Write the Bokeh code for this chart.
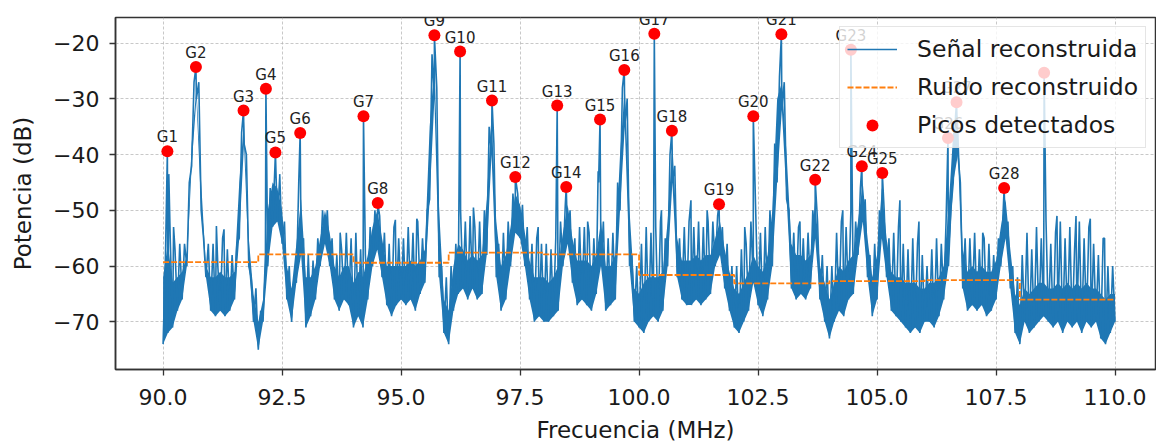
import numpy as np
from bokeh.plotting import figure
from bokeh.models import (Legend, LegendItem, FixedTicker, Range1d, ColumnDataSource,
                          Label, CustomJSTickFormatter)
from bokeh.embed import file_html
from bokeh.resources import INLINE

# ---------------- data ----------------
# lower envelope of the reconstructed signal, every 0.1 MHz from 90.0 to 110.0
sig_lo_db = [
    -74, -72, -71, -68, -66, -60, -42, -30, -50, -62,
    -68, -69, -68, -69, -68, -66, -55, -38, -60, -70,
    -75, -70, -60, -53, -52, -56, -66, -70, -63, -58,
    -71, -69, -66, -60, -56, -60, -66, -68, -66, -67,
    -71, -69, -71, -66, -60, -57, -62, -67, -69, -67,
    -66, -67, -66, -68, -65, -63, -48, -30, -62, -72,
    -74, -68, -65, -64, -66, -64, -66, -65, -58, -40,
    -62, -68, -66, -60, -54, -55, -60, -66, -70, -69,
    -70, -70, -69, -68, -60, -56, -63, -67, -66, -67,
    -68, -65, -60, -68, -67, -66, -50, -35, -60, -70,
    -71, -72, -70, -69, -70, -68, -60, -45, -62, -66,
    -67, -67, -66, -67, -66, -65, -60, -58, -64, -68,
    -71, -72, -70, -68, -63, -67, -69, -66, -60, -45,
    -32, -48, -64, -66, -65, -66, -64, -55, -66, -70,
    -73, -70, -68, -69, -66, -65, -58, -52, -62, -69,
    -66, -55, -62, -68, -69, -70, -71, -72, -71, -72,
    -70, -70, -71, -69, -66, -60, -45, -40, -64, -68,
    -67, -68, -67, -69, -68, -66, -60, -55, -64, -72,
    -74, -70, -72, -71, -70, -69, -70, -71, -70, -72,
    -70, -71, -70, -72, -70, -71, -70, -73, -74, -72,
    -70,
]
# top of the dense part of the signal, same frequencies as sig_lo_db
sig_core_db = [
    -62, -56, -63, -62, -61, -58, -38, -28, -45, -60,
    -62, -62, -61, -62, -62, -61, -45, -34, -55, -65,
    -70, -66, -50, -45, -46, -50, -60, -64, -56, -48,
    -62, -62, -60, -55, -50, -54, -60, -62, -60, -60,
    -63, -61, -62, -58, -53, -50, -55, -60, -60, -60,
    -60, -60, -59, -60, -59, -57, -35, -24, -50, -66,
    -68, -60, -56, -57, -59, -58, -59, -58, -48, -33,
    -52, -60, -58, -53, -47, -49, -54, -59, -62, -62,
    -62, -63, -62, -60, -54, -49, -55, -59, -59, -59,
    -60, -58, -52, -60, -60, -58, -40, -28, -50, -64,
    -65, -63, -62, -62, -62, -61, -52, -38, -55, -59,
    -59, -59, -58, -59, -58, -58, -55, -52, -57, -61,
    -64, -65, -63, -61, -58, -60, -61, -58, -50, -30,
    -27, -40, -56, -58, -58, -59, -58, -48, -60, -63,
    -66, -63, -60, -61, -59, -58, -52, -45, -55, -62,
    -58, -46, -55, -61, -62, -62, -63, -63, -63, -64,
    -64, -63, -63, -62, -60, -50, -36, -33, -57, -61,
    -60, -61, -60, -61, -61, -59, -53, -48, -57, -65,
    -67, -64, -65, -64, -63, -63, -64, -64, -63, -64,
    -63, -64, -63, -64, -63, -64, -64, -65, -66, -65,
    -65,
]
# upper values of the signal, every 0.1 MHz from 90.05 to 109.95
sig_hi_db = [
    -58, -55, -57, -56, -56, -45, -27, -27, -55, -56,
    -56, -60, -55, -57, -58, -56, -36, -40, -62, -64,
    -68, -58, -46, -42, -44, -52, -60, -62, -45, -55,
    -58, -59, -55, -50, -50, -55, -58, -57, -54, -55,
    -54, -57, -58, -53, -50, -51, -54, -56, -53, -55,
    -55, -53, -54, -52, -55, -50, -22, -28, -60, -62,
    -60, -56, -50, -52, -51, -53, -52, -50, -35, -38,
    -56, -54, -52, -47, -47, -49, -53, -56, -55, -56,
    -56, -57, -55, -52, -49, -50, -55, -53, -53, -54,
    -55, -45, -52, -55, -54, -45, -28, -30, -58, -60,
    -56, -53, -54, -53, -52, -55, -40, -42, -55, -53,
    -52, -53, -52, -53, -52, -52, -51, -53, -56, -60,
    -60, -57, -56, -52, -50, -54, -53, -50, -38, -26,
    -27, -50, -54, -53, -55, -54, -50, -52, -58, -60,
    -60, -54, -52, -53, -50, -52, -46, -48, -58, -56,
    -50, -50, -55, -54, -53, -56, -57, -55, -56, -58,
    -60, -57, -55, -56, -52, -50, -33, -45, -55, -55,
    -54, -57, -55, -56, -58, -55, -50, -52, -60, -62,
    -58, -54, -57, -53, -55, -52, -56, -54, -52, -55,
    -53, -57, -52, -55, -53, -56, -58, -55, -60, -60,
]
# isolated thin spikes of the signal
spike_freq = [90.12, 90.22, 91.12, 91.28, 92.45, 93.72, 94.88, 95.33, 96.52, 97.88,
              98.92, 99.14, 100.47, 101.09, 101.43, 102.22, 103.38, 104.28, 105.48,
              105.88, 107.22, 108.78, 109.18, 109.48, 109.78]
spike_db = [-43.5, -53, -52.8, -53.4, -43.5, -54, -51.7, -51.5, -49.5, -53,
            -52, -43, -50, -48.2, -50, -53, -52, -50, -48.2,
            -52, -54, -51, -51, -51.5, -55]

# detected peaks (the last one, behind the legend, carries no visible label)
peak_labels = ["G1", "G2", "G3", "G4", "G5", "G6", "G7", "G8", "G9", "G10",
               "G11", "G12", "G13", "G14", "G15", "G16", "G17", "G18", "G19", "G20",
               "G21", "G22", "G23", "G24", "G25", "G26", "G27", "G28"]
peak_freq = [90.09, 90.69, 91.69, 92.16, 92.36, 92.88, 94.21, 94.51, 95.70, 96.24,
             96.91, 97.40, 98.28, 98.47, 99.18, 99.69, 100.32, 100.69, 101.68, 102.40,
             102.99, 103.70, 104.45, 104.68, 105.11, 106.49, 106.67, 107.67, 108.51]
peak_db = [-39.4, -24.3, -32.1, -28.2, -39.6, -36.1, -33.1, -48.7, -18.6, -21.5,
           -30.3, -44.0, -31.2, -45.8, -33.7, -24.8, -18.3, -35.7, -48.9, -33.1,
           -18.4, -44.5, -21.2, -42.1, -43.3, -37.0, -30.6, -46.0, -25.3]

# reconstructed noise floor (2 MHz blocks)
noise_edges = [90, 92, 94, 96, 98, 100, 102, 104, 106, 108, 110]
noise_db = [-59.3, -57.9, -59.4, -57.6, -57.9, -61.6, -63.1, -62.7, -62.5, -66.0, -66.0]

x_ticks = [90.0, 92.5, 95.0, 97.5, 100.0, 102.5, 105.0, 107.5, 110.0]
y_ticks = [-70, -60, -50, -40, -30, -20]

# ---------------- build signal trace ----------------
lo_f = np.round(np.linspace(90.0, 110.0, len(sig_lo_db)), 3)
hi_f = np.round(lo_f[:-1] + 0.05, 3)
all_f = np.concatenate([lo_f, hi_f, spike_freq, peak_freq])
all_db = np.concatenate([sig_lo_db, sig_hi_db, spike_db, peak_db])
order = np.argsort(all_f, kind="stable")
sig_f = all_f[order]
sig_db = all_db[order]

FONT = "DejaVu Sans"
TXT = "#1a1a1a"
BLUE = "#1f77b4"

p = figure(width=1156, height=446, output_backend="svg", toolbar_location=None,
           x_range=Range1d(89.0, 110.85), y_range=Range1d(-78.55, -15.4),
           min_border_left=115, min_border_right=1, min_border_top=17, min_border_bottom=77)
p.background_fill_color = "white"
p.border_fill_color = "white"
p.outline_line_color = "#333333"
p.outline_line_width = 1.5

p.varea(x=lo_f, y1=sig_lo_db, y2=sig_core_db, fill_color=BLUE)
sig_r = p.line(sig_f, sig_db, line_color=BLUE, line_width=1.6)
noise_r = p.step(noise_edges, noise_db, mode="after", line_color="#ff7f0e",
                 line_width=1.8, line_dash="6 2")
src = ColumnDataSource(dict(f=peak_freq, db=peak_db))
pk_r = p.scatter("f", "db", source=src, size=12, fill_color="red", line_color=None)

for f, db, lab in zip(peak_freq, peak_db, peak_labels):
    p.add_layout(Label(x=f, y=db, text=lab, text_align="center",
                       text_baseline="alphabetic", y_offset=14, text_font=FONT,
                       text_font_size="15px", text_color="#222222"))

# axes
for ax in (p.xaxis[0], p.yaxis[0]):
    ax.axis_line_color = "#333333"
    ax.axis_line_width = 1.5
    ax.major_tick_line_color = "#333333"
    ax.major_tick_line_width = 1.3
    ax.major_tick_out = 6
    ax.major_tick_in = 0
    ax.minor_tick_line_color = None
    ax.major_label_text_font = FONT
    ax.major_label_text_font_size = "22px"
    ax.major_label_text_color = TXT
    ax.axis_label_text_font = FONT
    ax.axis_label_text_font_size = "23px"
    ax.axis_label_text_font_style = "normal"
    ax.axis_label_text_color = TXT

p.xaxis.ticker = FixedTicker(ticks=x_ticks)
p.yaxis.ticker = FixedTicker(ticks=y_ticks)
p.xaxis.formatter = CustomJSTickFormatter(code="return tick.toFixed(1);")
p.yaxis.formatter = CustomJSTickFormatter(
    code="return (tick < 0 ? '\u2212' : '') + Math.abs(tick).toFixed(0);")
p.xaxis.axis_label = "Frecuencia (MHz)"
p.yaxis.axis_label = "Potencia (dB)"
p.xaxis.major_label_standoff = 13
p.yaxis.major_label_standoff = 10
p.xaxis.axis_label_standoff = 9
p.yaxis.axis_label_standoff = 14

p.grid.grid_line_color = "#b0b0b0"
p.grid.grid_line_alpha = 0.7
p.grid.grid_line_dash = "3 2"
p.grid.grid_line_width = 1

legend = Legend(items=[
    LegendItem(label="Señal reconstruida", renderers=[sig_r]),
    LegendItem(label="Ruido reconstruido", renderers=[noise_r]),
    LegendItem(label="Picos detectados", renderers=[pk_r]),
], location=(724, 221))
legend.label_text_font = FONT
legend.label_text_font_size = "23.5px"
legend.label_text_color = TXT
legend.glyph_width = 50
legend.glyph_height = 30
legend.label_height = 30
legend.label_standoff = 20
legend.spacing = 8
legend.padding = 7
legend.margin = 0
legend.border_line_color = "#cccccc"
legend.border_line_width = 1
legend.background_fill_color = "white"
legend.background_fill_alpha = 0.8
p.add_layout(legend)

open("out.html", "w").write(file_html(p, INLINE))
